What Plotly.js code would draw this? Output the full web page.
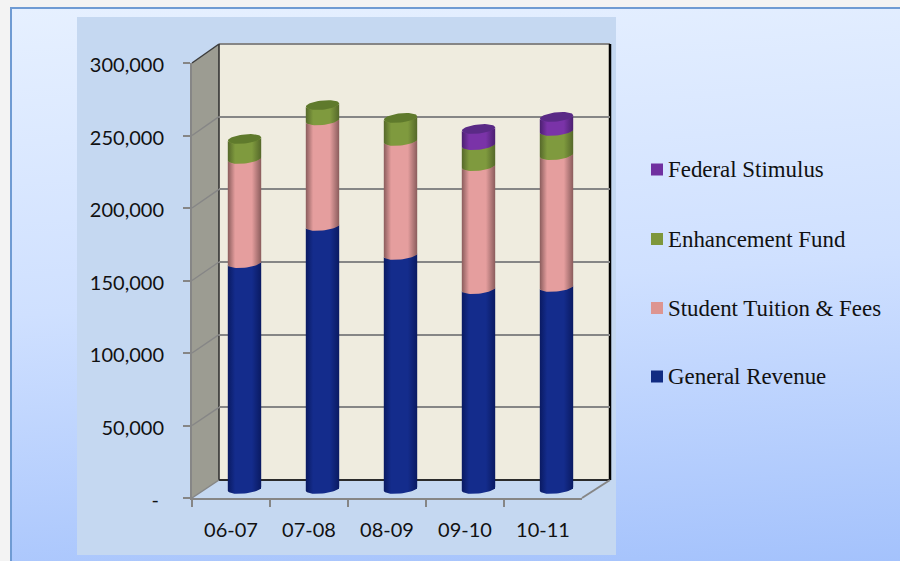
<!DOCTYPE html>
<html>
<head>
<meta charset="utf-8">
<script src="https://cdn.plot.ly/plotly-3.0.1.min.js"></script>
<style>
  html, body { margin: 0; padding: 0; width: 900px; height: 561px; overflow: hidden; background: #f3f3f3; }
  #frame { position: absolute; left: 10px; top: 7px; width: 890px; height: 554px; box-sizing: border-box;
           border-left: 2px solid #6f9bd3; border-top: 2px solid #6f9bd3;
           background: linear-gradient(176deg, #e6f0ff 0%, #cfe0ff 50%, #a4c2fc 100%); }
  #chart { position: absolute; left: 0; top: 0; width: 900px; height: 561px; }
</style>
</head>
<body>
<div id="frame"></div>
<div id="chart"></div>
<script>
// Budget by source of funds, fiscal years 06-07 to 10-11
const years = ['06-07', '07-08', '08-09', '09-10', '10-11'];
const generalRevenue = [155800, 181400, 161400, 137900, 139300];
const tuitionFees = [71800, 72800, 78600, 84800, 91000];
const enhancementFund = [13800, 10600, 15900, 14500, 16600];
const federalStimulus = [null, null, null, 11100, 9700];
const yTicks = [0, 50000, 100000, 150000, 200000, 250000, 300000];
const yTickText = ['-\u00a0', '50,000', '100,000', '150,000', '200,000', '250,000', '300,000'];

const W = 900, H = 561;
const px = x => x / W;
const py = y => 1 - y / H;
const domX = (a, b) => [px(a), px(b)];
const domY = (top, bottom) => [py(bottom), py(top)];

// Pixel frame of the pseudo-3D box: front edge, back wall, and the mid plane holding the columns
const FRONT = { l: 192, r: 582, t: 63, b: 498 };
const BACK = { l: 219, r: 610, t: 44, b: 480 };
const MID = { l: 205.5, r: 595.5, b: 489 };
const Y_MAX = 300000;
const pxPerUnit = (FRONT.b - FRONT.t) / Y_MAX;
const Y_MIN_MID = -20000;

const series = [
  { name: 'General Revenue', values: generalRevenue, legend: '#112b82', edge: '#0a1a62', mid: '#142c8c', cap: '#0e2273', legendY: 376.5 },
  { name: 'Student Tuition & Fees', values: tuitionFees, legend: '#dd9591', edge: '#8a5c5c', mid: '#e59e9e', cap: '#b87d7d', legendY: 308 },
  { name: 'Enhancement Fund', values: enhancementFund, legend: '#7e973b', edge: '#55682a', mid: '#7f9a3e', cap: '#5f7a2c', legendY: 239 },
  { name: 'Federal Stimulus', values: federalStimulus, legend: '#7030a0', edge: '#4b2070', mid: '#7a33a8', cap: '#5a2a86', legendY: 169.5 }
];

// Cylinder geometry expressed in axis units
const catPx = (MID.r - MID.l) / years.length;
const RADIUS = 16.7 / catPx;
const TILT = 4.6 / pxPerUnit;  // half height of the elliptical end
const SHEAR = 1.7 / pxPerUnit; // rise of the ellipse towards the right
const STEPS = 24;

function frontArc(cx, v, reverse) {
  const out = [];
  for (let k = 0; k <= STEPS; k++) {
    const t = Math.PI * (reverse ? k : STEPS - k) / STEPS;
    out.push([cx + RADIUS * Math.cos(t), v - TILT * Math.sin(t) + SHEAR * Math.cos(t)]);
  }
  return out;
}
function fullEllipse(cx, v) {
  const out = [];
  for (let k = 0; k <= 2 * STEPS; k++) {
    const t = Math.PI * k / STEPS;
    out.push([cx + RADIUS * Math.cos(t), v - TILT * Math.sin(t) + SHEAR * Math.cos(t)]);
  }
  return out;
}
const outlineTrace = (pts, colorscale) => ({
  type: 'scatter', mode: 'lines', xaxis: 'x3', yaxis: 'y3',
  x: pts.map(p => p[0]), y: pts.map(p => p[1]),
  fill: 'toself', fillcolor: colorscale[1][1],
  fillgradient: { type: 'horizontal', colorscale },
  line: { width: 0 }, showlegend: false, hoverinfo: 'skip'
});

const traces = [];

// Placeholder traces keep the back-wall and front axes alive
traces.push({ type: 'scatter', mode: 'none', x: yTicks.map(() => 0), y: yTicks, xaxis: 'x', yaxis: 'y', showlegend: false, hoverinfo: 'skip' });
traces.push({ type: 'scatter', mode: 'none', x: years, y: years.map(() => 0), xaxis: 'x2', yaxis: 'y2', showlegend: false, hoverinfo: 'skip' });

// Stacked columns
const indices = years.map((_, i) => i);
series.forEach(s => {
  traces.push({
    type: 'bar', name: s.name, x: indices, y: s.values, xaxis: 'x3', yaxis: 'y3',
    width: 0.4, marker: { color: s.legend, line: { width: 0 } },
    showlegend: false, hovertemplate: s.name + ': %{y:,}<extra></extra>'
  });
});

// Rounded, shaded surface over every stacked segment
years.forEach((_, i) => {
  let base = 0;
  let topColor = null;
  series.forEach(s => {
    const v = s.values[i];
    if (v == null) return;
    const top = base + v;
    const pts = frontArc(i, top, false).concat(frontArc(i, base, true));
    pts.push(pts[0]);
    const scale = [[0, s.edge], [0.22, s.mid], [0.72, s.mid], [1, s.edge]];
    traces.push(outlineTrace(pts, scale));
    base = top;
    topColor = s;
  });
  traces.push(outlineTrace(fullEllipse(i, base), [[0, topColor.cap], [0.5, topColor.cap], [1, topColor.cap]]));
});

// Box: panel, walls, floor and the wall rules
const WALL = '#868686';
const poly = pts => 'M' + pts.map(p => px(p[0]) + ',' + py(p[1])).join('L') + 'Z';
const segment = (a, b, color, width) => ({
  type: 'line', xref: 'paper', yref: 'paper', layer: 'below',
  x0: px(a[0]), y0: py(a[1]), x1: px(b[0]), y1: py(b[1]),
  line: { color, width }
});
const filled = (pts, color, layer) => ({
  type: 'path', xref: 'paper', yref: 'paper', layer: layer || 'below', path: poly(pts),
  fillcolor: color, line: { width: 0 }
});
const yFront = v => FRONT.b - v * pxPerUnit;
const yBack = v => BACK.b - v * (BACK.b - BACK.t) / Y_MAX;

const shapes = [
  filled([[77, 17], [616, 17], [616, 555], [77, 555]], '#c5d8f1'),
  filled([[BACK.l, BACK.t], [BACK.r, BACK.t], [BACK.r, BACK.b], [BACK.l, BACK.b]], '#efecdf'),
  filled([[FRONT.l, FRONT.t], [BACK.l, BACK.t], [BACK.l, BACK.b], [FRONT.l, FRONT.b]], '#9c9c92'),
  segment([BACK.l, BACK.t], [BACK.r, BACK.t], WALL, 2),
  segment([BACK.l, BACK.t], [BACK.l, BACK.b], '#2b2b2b', 1.5),
  segment([BACK.l, BACK.b], [BACK.r, BACK.b], '#2b2b2b', 2),
  segment([BACK.r, BACK.t], [BACK.r, BACK.b], '#000000', 2.5),
  segment([FRONT.r, FRONT.b], [BACK.r, BACK.b], WALL, 2),
  segment([FRONT.l, FRONT.b], [BACK.l, BACK.b], WALL, 1.5)
];
yTicks.forEach(v => {
  if (v === 0) return;
  const top = v === Y_MAX;
  shapes.push(segment([FRONT.l, yFront(v)], [BACK.l, yBack(v)], top ? '#3c3c3c' : WALL, 1.5));
});

// Legend key: swatch and label per series, top of the stack listed first
const SWATCH = { l: 651, size: 12 };
const LABEL_X = 668;
const annotations = [];
series.forEach(s => {
  const half = SWATCH.size / 2;
  shapes.push(filled([
    [SWATCH.l, s.legendY - half], [SWATCH.l + SWATCH.size, s.legendY - half],
    [SWATCH.l + SWATCH.size, s.legendY + half], [SWATCH.l, s.legendY + half]
  ], s.legend));
  annotations.push({
    xref: 'paper', yref: 'paper', x: px(LABEL_X), y: py(s.legendY), xanchor: 'left', yanchor: 'middle',
    text: s.name.replace('&', '&amp;'), showarrow: false, borderpad: 0, xshift: -1,
    font: { family: '"Liberation Serif", "Times New Roman", serif', size: 22.9, color: '#111111' }
  });
});

const font = { family: 'Lato, "Open Sans", sans-serif', size: 20, color: '#111111' };

const layout = {
  width: W, height: H,
  margin: { l: 0, r: 0, t: 0, b: 0, pad: 0 },
  paper_bgcolor: 'rgba(0,0,0,0)', plot_bgcolor: 'rgba(0,0,0,0)',
  barmode: 'stack', bargap: 0,
  showlegend: false,
  // back wall with its horizontal rules
  xaxis: { domain: domX(BACK.l, BACK.r), range: [0, 1], anchor: 'y', showgrid: false, zeroline: false, showline: false, showticklabels: false, ticks: '' },
  yaxis: { domain: domY(BACK.t, BACK.b), range: [0, Y_MAX], anchor: 'x', tickmode: 'array', tickvals: yTicks, showticklabels: false, ticks: '',
           showgrid: true, gridcolor: WALL, gridwidth: 2, zeroline: false, showline: false },
  // front edges carrying the tick labels
  xaxis2: { domain: domX(FRONT.l, FRONT.r), anchor: 'y2', type: 'category', categoryorder: 'array', categoryarray: years,
            range: [-0.5, years.length - 0.5], tickson: 'boundaries', ticks: 'outside', ticklen: 7, tickwidth: 1.5, tickcolor: WALL,
            showline: true, linecolor: WALL, linewidth: 2, showgrid: false, zeroline: false, tickfont: font, ticklabelstandoff: 13 },
  yaxis2: { domain: domY(FRONT.t, FRONT.b), range: [0, Y_MAX], anchor: 'x2', side: 'left', tickmode: 'array', tickvals: yTicks, ticktext: yTickText,
            ticks: 'outside', ticklen: 7, tickwidth: 1.5, tickcolor: WALL, showline: true, linecolor: WALL, linewidth: 2,
            showgrid: false, zeroline: false, tickfont: font, ticklabelstandoff: 15, ticklabelshift: 2 },
  // mid plane for the columns, extended below zero so the rounded bases are not clipped
  xaxis3: { domain: domX(MID.l, MID.r), range: [-0.5, years.length - 0.5], anchor: 'y3', visible: false },
  yaxis3: { domain: domY(FRONT.t - (FRONT.b - MID.b), MID.b - Y_MIN_MID * pxPerUnit), range: [Y_MIN_MID, Y_MAX], anchor: 'x3', visible: false },
  shapes,
  annotations
};

Plotly.newPlot('chart', traces, layout, { displayModeBar: false });
</script>
</body>
</html>
